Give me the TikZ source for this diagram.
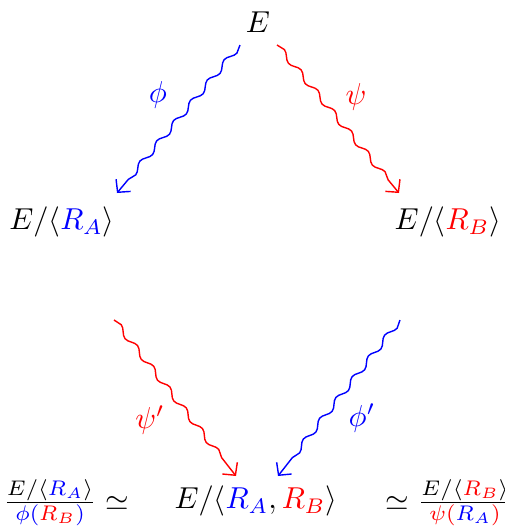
\documentclass[tikz,border=0pt]{standalone}
\usepackage{amsmath}
\usepackage{xcolor}
\usetikzlibrary{arrows.meta, decorations.pathmorphing}

\begin{document}
\begin{tikzpicture}[
    x=0.01cm, y=-0.01cm,
    nodes={scale=0.86, transform shape},
    sq/.style={decorate, decoration={snake, amplitude=0.8pt, segment length=7.5pt, post length=1.6mm}, -{Straight Barb[length=0.9mm, width=1.9mm]}},
    obj/.style={inner sep=0pt},
    lbl/.style={inner sep=1pt},
]
\useasboundingbox (0,0) rectangle (505,526);

\node[obj] (e)     at (258,22)  {$E$};
\node[obj] (ea)    at (62,222)  {$E/\langle\textcolor{blue}{R_A}\rangle$};
\node[obj] (eb)    at (448,222) {$E/\langle\textcolor{red}{R_B}\rangle$};
\node[obj] (eab)   at (256,501) {$E/\langle\textcolor{blue}{R_A},\textcolor{red}{R_B}\rangle$};
\node[obj] (quota) at (66,503)  {$\frac{E/\langle\textcolor{blue}{R_A}\rangle}{\textcolor{blue}{\phi(\textcolor{red}{R_B})}}\simeq$};
\node[obj] (quotb) at (449,503) {$\simeq\frac{E/\langle\textcolor{red}{R_B}\rangle}{\textcolor{red}{\psi(\textcolor{blue}{R_A})}}$};

% free ends of the lower arrows
\coordinate (fromea) at (114,320);
\coordinate (fromeb) at (400,320);

\draw[sq, blue] ([shift={(-18,23)}]e.center) -- ([shift={(55,-29)}]ea.center);
\draw[sq, red]  ([shift={(19,23)}]e.center) -- ([shift={(-49,-29)}]eb.center);
\draw[sq, red]  (fromea) -- ([shift={(-20,-25)}]eab.center);
\draw[sq, blue] (fromeb) -- ([shift={(22,-25)}]eab.center);

\node[lbl, blue] (lphi)  at (158,95)  {$\phi$};
\node[lbl, red]  (lpsi)  at (356,97)  {$\psi$};
\node[lbl, red]  (lpsi2) at (150,420) {$\psi'$};
\node[lbl, blue] (lphi2) at (362,418) {$\phi'$};
\end{tikzpicture}
\end{document}
